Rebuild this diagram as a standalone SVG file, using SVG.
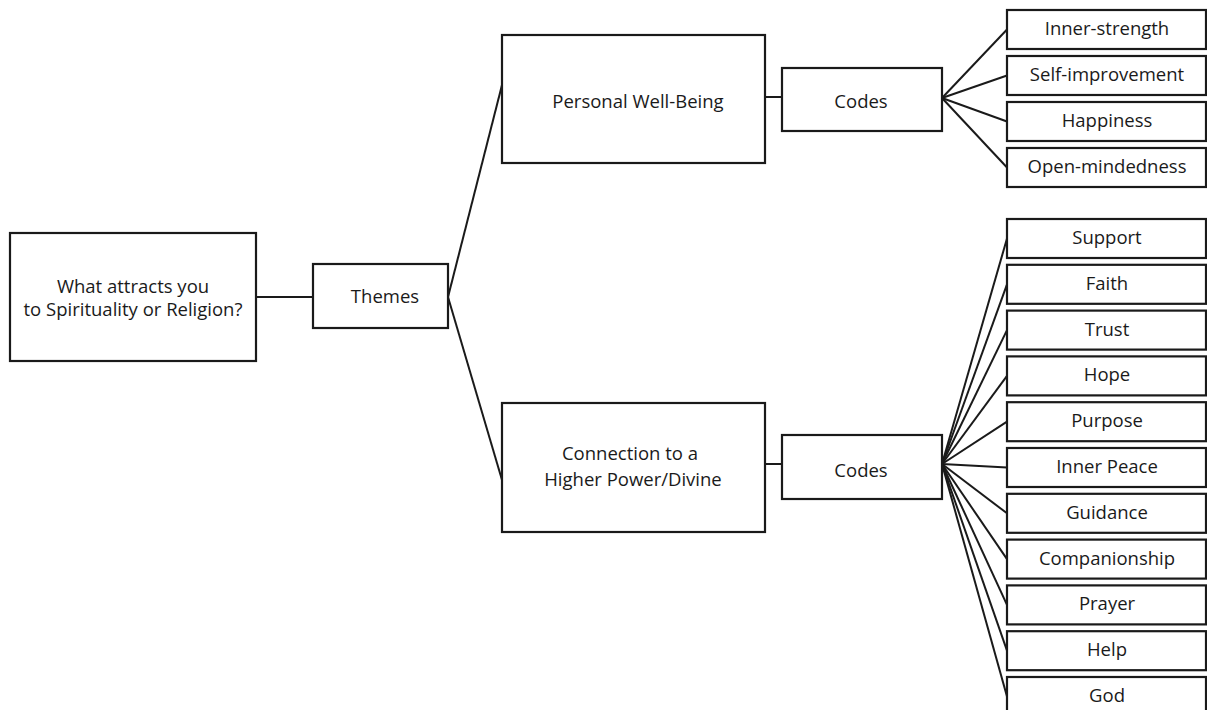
<svg xmlns="http://www.w3.org/2000/svg" width="1207" height="710" viewBox="0 0 1207 710">
  <style>
    .box { fill: #ffffff; stroke: #1a1a1a; stroke-width: 2.2; }
    .lbl { font-family: "Open Sans", "Liberation Sans", sans-serif; font-size: 18.5px; fill: #1a1a1a; text-anchor: middle; }
    .edge { stroke: #1a1a1a; stroke-width: 2; fill: none; }
  </style>
  <rect width="1207" height="710" fill="#ffffff"/>

  <!-- connectors -->
  <g id="connectors" class="edge">
    <line x1="256" y1="297" x2="313" y2="297"/>
    <line x1="448" y1="297" x2="502" y2="85"/>
    <line x1="448" y1="297" x2="502" y2="480"/>
    <line x1="765" y1="97" x2="782" y2="97"/>
    <line x1="765" y1="464" x2="782" y2="464"/>
    <!-- fan: well-being codes -->
    <line x1="942" y1="98" x2="1007" y2="29.5"/>
    <line x1="942" y1="98" x2="1007" y2="75.5"/>
    <line x1="942" y1="98" x2="1007" y2="121.5"/>
    <line x1="942" y1="98" x2="1007" y2="167.5"/>
    <!-- fan: higher power codes -->
    <line x1="942" y1="464" x2="1007" y2="238.5"/>
    <line x1="942" y1="464" x2="1007" y2="284.3"/>
    <line x1="942" y1="464" x2="1007" y2="330.1"/>
    <line x1="942" y1="464" x2="1007" y2="375.9"/>
    <line x1="942" y1="464" x2="1007" y2="421.7"/>
    <line x1="942" y1="464" x2="1007" y2="467.5"/>
    <line x1="942" y1="464" x2="1007" y2="513.3"/>
    <line x1="942" y1="464" x2="1007" y2="559.1"/>
    <line x1="942" y1="464" x2="1007" y2="604.9"/>
    <line x1="942" y1="464" x2="1007" y2="650.7"/>
    <line x1="942" y1="464" x2="1007" y2="696.5"/>
  </g>

  <g id="question">
    <rect class="box" x="10" y="233" width="246" height="128"/>
    <text class="lbl" x="133" y="293">What attracts you</text>
    <text class="lbl" x="133" y="316">to Spirituality or Religion?</text>
  </g>
  <g id="themes">
    <rect class="box" x="313" y="264" width="135" height="64"/>
    <text class="lbl" x="385" y="303">Themes</text>
  </g>

  <g id="wellbeing">
    <rect class="box" x="502" y="35" width="263" height="128"/>
    <text class="lbl" x="638" y="108">Personal Well-Being</text>
  </g>
  <g id="wellbeing-codes">
    <rect class="box" x="782" y="68" width="160" height="63"/>
    <text class="lbl" x="861" y="108">Codes</text>
  </g>

  <g id="higher-power">
    <rect class="box" x="502" y="403" width="263" height="129"/>
    <text class="lbl" x="630" y="460">Connection to a</text>
    <text class="lbl" x="633" y="486">Higher Power/Divine</text>
  </g>
  <g id="higher-power-codes">
    <rect class="box" x="782" y="435" width="160" height="64"/>
    <text class="lbl" x="861" y="477">Codes</text>
  </g>

  <!-- code boxes, well-being -->
  <g id="code-inner-strength"><rect class="box" x="1007" y="10" width="199" height="39"/><text class="lbl" x="1107" y="35">Inner-strength</text></g>
  <g id="code-self-improvement"><rect class="box" x="1007" y="56" width="199" height="39"/><text class="lbl" x="1107" y="81">Self-improvement</text></g>
  <g id="code-happiness"><rect class="box" x="1007" y="102" width="199" height="39"/><text class="lbl" x="1107" y="127">Happiness</text></g>
  <g id="code-open-mindedness"><rect class="box" x="1007" y="148" width="199" height="39"/><text class="lbl" x="1107" y="173">Open-mindedness</text></g>

  <!-- code boxes, higher power -->
  <g id="code-support"><rect class="box" x="1007" y="219" width="199" height="39"/><text class="lbl" x="1107" y="244">Support</text></g>
  <g id="code-faith"><rect class="box" x="1007" y="264.8" width="199" height="39"/><text class="lbl" x="1107" y="289.8">Faith</text></g>
  <g id="code-trust"><rect class="box" x="1007" y="310.6" width="199" height="39"/><text class="lbl" x="1107" y="335.6">Trust</text></g>
  <g id="code-hope"><rect class="box" x="1007" y="356.4" width="199" height="39"/><text class="lbl" x="1107" y="381.4">Hope</text></g>
  <g id="code-purpose"><rect class="box" x="1007" y="402.2" width="199" height="39"/><text class="lbl" x="1107" y="427.2">Purpose</text></g>
  <g id="code-inner-peace"><rect class="box" x="1007" y="448" width="199" height="39"/><text class="lbl" x="1107" y="473">Inner Peace</text></g>
  <g id="code-guidance"><rect class="box" x="1007" y="493.8" width="199" height="39"/><text class="lbl" x="1107" y="518.8">Guidance</text></g>
  <g id="code-companionship"><rect class="box" x="1007" y="539.6" width="199" height="39"/><text class="lbl" x="1107" y="564.6">Companionship</text></g>
  <g id="code-prayer"><rect class="box" x="1007" y="585.4" width="199" height="39"/><text class="lbl" x="1107" y="610.4">Prayer</text></g>
  <g id="code-help"><rect class="box" x="1007" y="631.2" width="199" height="39"/><text class="lbl" x="1107" y="656.2">Help</text></g>
  <g id="code-god"><rect class="box" x="1007" y="677" width="199" height="39"/><text class="lbl" x="1107" y="702">God</text></g>
</svg>
